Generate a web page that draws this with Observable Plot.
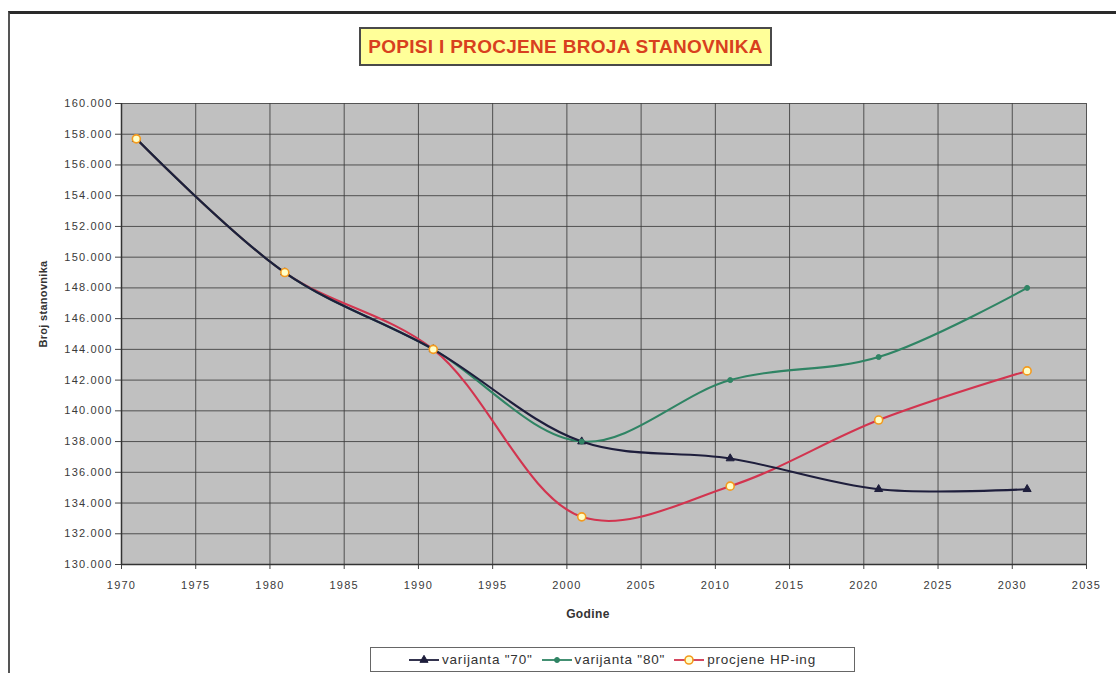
<!DOCTYPE html>
<html>
<head>
<meta charset="utf-8">
<script src="https://cdn.jsdelivr.net/npm/d3@7"></script>
<script src="https://cdn.jsdelivr.net/npm/@observablehq/plot@0.6"></script>
<style>
  html, body { margin: 0; padding: 0; background: #fff; }
  #wrap { position: relative; width: 1116px; height: 673px; overflow: hidden; font-family: "Liberation Sans", Arial, sans-serif; }
  #frameBorder { position: absolute; left: 8px; top: 11px; width: 1130px; height: 700px; border-top: 3px solid #2a2a2a; border-left: 2px solid #555; }
  #title { position: absolute; left: 359px; top: 27px; width: 413px; height: 39px; background: #ffff99; border: 2px solid #4a4a4a; box-sizing: border-box; display: flex; align-items: center; justify-content: center; font-weight: bold; font-size: 19px; letter-spacing: 0.3px; color: #d8401e; white-space: nowrap; }
  #ytitle { position: absolute; left: 43px; top: 304px; transform: translate(-50%, -50%) rotate(-90deg); font-weight: bold; font-size: 11px; letter-spacing: 0.3px; color: #333; white-space: nowrap; }
  #xtitle { position: absolute; left: 588px; top: 614px; transform: translate(-50%, -50%); font-weight: bold; font-size: 12px; letter-spacing: 0.4px; color: #333; }
  #legend { position: absolute; left: 370px; top: 647px; width: 485px; height: 25px; box-sizing: border-box; border: 1px solid #666; background: #fff; display: flex; align-items: center; justify-content: center; gap: 9px; font-size: 13.5px; letter-spacing: 0.8px; color: #333; white-space: nowrap; }
  #legend .item { display: flex; align-items: center; gap: 3px; }
  #chart { position: absolute; left: 0; top: 0; }
</style>
</head>
<body>
<div id="wrap">
  <div id="frameBorder"></div>
  <div id="chart"></div>
  <div id="title"></div>
  <div id="ytitle"></div>
  <div id="xtitle"></div>
  <div id="legend"></div>
</div>
<script>
const chartTitle = "POPISI I PROCJENE BROJA STANOVNIKA";
const yTitle = "Broj stanovnika";
const xTitle = "Godine";
const years = [1971, 1981, 1991, 2001, 2011, 2021, 2031];
const var70 = [157700, 149000, 144000, 138000, 136900, 134900, 134900];
const var80 = [157700, 149000, 144000, 138000, 142000, 143500, 148000];
const hpIng = [157700, 149000, 144000, 133100, 135100, 139400, 142600];
const seriesNames = ['varijanta "70"', 'varijanta "80"', 'procjene HP-ing'];
const xTicks = d3.range(1970, 2036, 5);
const yTicks = d3.range(130000, 160001, 2000);

const seriesStyle = [
  {line: "#1e1e3c", symbol: "triangle", r: 3, fill: "#1e1e3c", stroke: "#1e1e3c", sw: 1},
  {line: "#2f8464", symbol: "circle", r: 2.5, fill: "#2f8464", stroke: "#2f8464", sw: 1},
  {line: "#d2344f", symbol: "circle", r: 4, fill: "#ffffc8", stroke: "#f39a1e", sw: 1.6}
];

const seriesValues = [var70, var80, hpIng];
const rows = seriesValues.map((vals, s) => years.map((yr, i) => ({series: seriesNames[s], year: yr, value: vals[i]})));

const fmt = d => d3.format(",")(d).replace(/,/g, ".");

document.getElementById("title").textContent = chartTitle;
document.getElementById("ytitle").textContent = yTitle;
document.getElementById("xtitle").textContent = xTitle;

const drawOrder = [2, 1, 0];
const marks = [
  Plot.frame({fill: "#c0c0c0", stroke: "none"}),
  Plot.gridX(xTicks, {stroke: "#3c3c3c", strokeOpacity: 0.85, strokeWidth: 1}),
  Plot.gridY(yTicks, {stroke: "#3c3c3c", strokeOpacity: 0.85, strokeWidth: 1}),
  Plot.axisX({ticks: xTicks, tickSize: 5, tickPadding: 12, tickFormat: d => String(d), label: null, fontSize: 11, stroke: "#444"}),
  Plot.axisY({ticks: yTicks, tickSize: 6, tickPadding: 3, tickFormat: fmt, label: null, fontSize: 11, stroke: "#444"}),
  Plot.ruleY([130000], {stroke: "#333", strokeWidth: 1.5}),
  Plot.ruleX([1970], {stroke: "#333", strokeWidth: 1.5})
];
for (const s of drawOrder) {
  marks.push(Plot.line(rows[s], {x: "year", y: "value", stroke: seriesStyle[s].line, strokeWidth: 2.1, curve: "catmull-rom"}));
}
for (const s of [0, 1, 2]) {
  const st = seriesStyle[s];
  marks.push(Plot.dot(rows[s], {x: "year", y: "value", symbol: st.symbol, r: st.r, fill: st.fill, stroke: st.stroke, strokeWidth: st.sw}));
}

const plot = Plot.plot({
  width: 1116,
  height: 673,
  marginLeft: 121,
  marginRight: 30,
  marginTop: 103,
  marginBottom: 109,
  x: {domain: [1970, 2035]},
  y: {domain: [130000, 160000]},
  style: {fontFamily: "'Liberation Sans', Arial, sans-serif", fontSize: "11px", letterSpacing: "1.2px", color: "#3a3a3a", background: "transparent", overflow: "visible"},
  marks
});
document.getElementById("chart").appendChild(plot);

// legend
const legend = document.getElementById("legend");
seriesNames.forEach((name, s) => {
  const st = seriesStyle[s];
  const item = document.createElement("div");
  item.className = "item";
  const svg = d3.create("svg").attr("width", 30).attr("height", 12);
  svg.append("line").attr("x1", 0).attr("x2", 30).attr("y1", 6).attr("y2", 6).attr("stroke", st.line).attr("stroke-width", 1.8);
  const sym = st.symbol === "triangle" ? d3.symbolTriangle : d3.symbolCircle;
  svg.append("path").attr("transform", "translate(15,6)").attr("d", d3.symbol(sym, Math.PI * st.r * st.r)())
    .attr("fill", st.fill).attr("stroke", st.stroke).attr("stroke-width", st.sw);
  item.appendChild(svg.node());
  const t = document.createElement("span");
  t.textContent = name;
  item.appendChild(t);
  legend.appendChild(item);
});
</script>
</body>
</html>
